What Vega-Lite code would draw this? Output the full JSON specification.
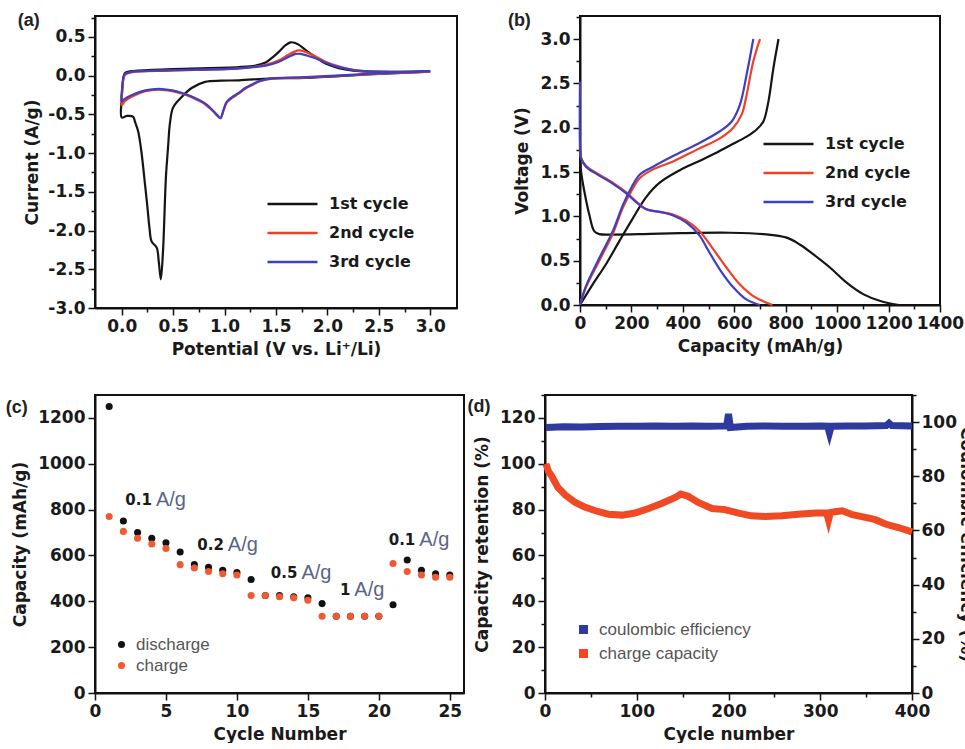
{
 "$schema": "https://vega.github.io/schema/vega-lite/v6.json",
 "padding": {"left": 4, "top": 11, "right": 0, "bottom": 0},
 "background": "white",
 "config": {
  "font": "Liberation Sans",
  "view": {"stroke": "#111", "strokeWidth": 2},
  "axis": {"labelFont": "DejaVu Sans", "labelFontSize": 17, "labelFontWeight": "bold", "labelColor": "#1a1a1a", "titleFont": "DejaVu Sans", "titleFontSize": 17, "titleFontWeight": "bold", "titleColor": "#1a1a1a", "domainColor": "#111", "domainWidth": 2, "tickColor": "#111", "tickWidth": 1.5, "grid": false, "labelPadding": 3, "titlePadding": 8, "labelFlush": false, "labelOverlap": false},
  "axisX": {"titlePadding": 7},
  "title": {"font": "Liberation Sans", "fontSize": 18, "fontWeight": "bold", "color": "#222", "anchor": "start", "frame": "bounds", "offset": -14, "dx": -6},
  "legend": {"labelFont": "Liberation Sans", "titleFont": "Liberation Sans"}
 },
 "resolve": {"scale": {"color": "independent"}, "legend": {"color": "independent"}},
 "columns": 1,
 "align": "none",
 "spacing": 35,
 "concat": [
  {
   "spacing": 48,
   "resolve": {"scale": {"color": "independent"}, "legend": {"color": "independent"}},
   "hconcat": [
    {
     "width": 362, "height": 292,
     "title": {"text": "(a)"},
     "data": {"values": [
      {"c":"1st cycle","o":1,"V":3.0,"I":0.05},{"c":"1st cycle","o":2,"V":2.44,"I":0.02},{"c":"1st cycle","o":3,"V":1.79,"I":-0.03},{"c":"1st cycle","o":4,"V":1.46,"I":-0.035},{"c":"1st cycle","o":5,"V":1.14,"I":-0.06},{"c":"1st cycle","o":6,"V":0.97,"I":-0.065},{"c":"1st cycle","o":7,"V":0.81,"I":-0.08},{"c":"1st cycle","o":8,"V":0.68,"I":-0.16},{"c":"1st cycle","o":9,"V":0.58,"I":-0.28},{"c":"1st cycle","o":10,"V":0.5,"I":-0.41},{"c":"1st cycle","o":11,"V":0.47,"I":-0.6},{"c":"1st cycle","o":12,"V":0.45,"I":-0.93},{"c":"1st cycle","o":13,"V":0.43,"I":-1.3},{"c":"1st cycle","o":14,"V":0.42,"I":-1.62},{"c":"1st cycle","o":15,"V":0.41,"I":-2.0},{"c":"1st cycle","o":16,"V":0.4,"I":-2.3},{"c":"1st cycle","o":17,"V":0.38,"I":-2.63},{"c":"1st cycle","o":18,"V":0.36,"I":-2.4},{"c":"1st cycle","o":19,"V":0.34,"I":-2.22},{"c":"1st cycle","o":20,"V":0.29,"I":-2.14},{"c":"1st cycle","o":21,"V":0.27,"I":-1.97},{"c":"1st cycle","o":22,"V":0.25,"I":-1.7},{"c":"1st cycle","o":23,"V":0.23,"I":-1.45},{"c":"1st cycle","o":24,"V":0.19,"I":-0.97},{"c":"1st cycle","o":25,"V":0.16,"I":-0.72},{"c":"1st cycle","o":26,"V":0.13,"I":-0.6},{"c":"1st cycle","o":27,"V":0.11,"I":-0.53},{"c":"1st cycle","o":28,"V":0.05,"I":-0.52},{"c":"1st cycle","o":29,"V":0.0,"I":-0.54},{"c":"1st cycle","o":30,"V":0.0,"I":-0.3},{"c":"1st cycle","o":31,"V":0.01,"I":-0.1},{"c":"1st cycle","o":32,"V":0.03,"I":0.03},{"c":"1st cycle","o":33,"V":0.08,"I":0.055},{"c":"1st cycle","o":34,"V":0.16,"I":0.065},{"c":"1st cycle","o":35,"V":0.49,"I":0.086},{"c":"1st cycle","o":36,"V":1.14,"I":0.11},{"c":"1st cycle","o":37,"V":1.3,"I":0.13},{"c":"1st cycle","o":38,"V":1.4,"I":0.17},{"c":"1st cycle","o":39,"V":1.47,"I":0.24},{"c":"1st cycle","o":40,"V":1.53,"I":0.31},{"c":"1st cycle","o":41,"V":1.59,"I":0.39},{"c":"1st cycle","o":42,"V":1.64,"I":0.43},{"c":"1st cycle","o":43,"V":1.68,"I":0.425},{"c":"1st cycle","o":44,"V":1.72,"I":0.4},{"c":"1st cycle","o":45,"V":1.78,"I":0.34},{"c":"1st cycle","o":46,"V":1.85,"I":0.27},{"c":"1st cycle","o":47,"V":1.95,"I":0.18},{"c":"1st cycle","o":48,"V":2.03,"I":0.13},{"c":"1st cycle","o":49,"V":2.11,"I":0.095},{"c":"1st cycle","o":50,"V":2.25,"I":0.065},{"c":"1st cycle","o":51,"V":2.44,"I":0.05},{"c":"1st cycle","o":52,"V":2.75,"I":0.05},{"c":"1st cycle","o":53,"V":3.0,"I":0.06},
      {"c":"2nd cycle","o":1,"V":3.0,"I":0.05},{"c":"2nd cycle","o":2,"V":2.44,"I":0.02},{"c":"2nd cycle","o":3,"V":1.79,"I":-0.025},{"c":"2nd cycle","o":4,"V":1.46,"I":-0.04},{"c":"2nd cycle","o":5,"V":1.35,"I":-0.07},{"c":"2nd cycle","o":6,"V":1.27,"I":-0.12},{"c":"2nd cycle","o":7,"V":1.2,"I":-0.17},{"c":"2nd cycle","o":8,"V":1.14,"I":-0.23},{"c":"2nd cycle","o":9,"V":1.07,"I":-0.29},{"c":"2nd cycle","o":10,"V":1.02,"I":-0.35},{"c":"2nd cycle","o":11,"V":0.99,"I":-0.45},{"c":"2nd cycle","o":12,"V":0.96,"I":-0.55},{"c":"2nd cycle","o":13,"V":0.93,"I":-0.52},{"c":"2nd cycle","o":14,"V":0.88,"I":-0.45},{"c":"2nd cycle","o":15,"V":0.81,"I":-0.37},{"c":"2nd cycle","o":16,"V":0.68,"I":-0.28},{"c":"2nd cycle","o":17,"V":0.58,"I":-0.23},{"c":"2nd cycle","o":18,"V":0.49,"I":-0.2},{"c":"2nd cycle","o":19,"V":0.36,"I":-0.18},{"c":"2nd cycle","o":20,"V":0.23,"I":-0.2},{"c":"2nd cycle","o":21,"V":0.1,"I":-0.27},{"c":"2nd cycle","o":22,"V":0.03,"I":-0.33},{"c":"2nd cycle","o":23,"V":0.0,"I":-0.38},{"c":"2nd cycle","o":24,"V":0.005,"I":-0.2},{"c":"2nd cycle","o":25,"V":0.015,"I":-0.05},{"c":"2nd cycle","o":26,"V":0.03,"I":0.01},{"c":"2nd cycle","o":27,"V":0.1,"I":0.045},{"c":"2nd cycle","o":28,"V":0.49,"I":0.065},{"c":"2nd cycle","o":29,"V":1.14,"I":0.095},{"c":"2nd cycle","o":30,"V":1.4,"I":0.14},{"c":"2nd cycle","o":31,"V":1.53,"I":0.2},{"c":"2nd cycle","o":32,"V":1.62,"I":0.27},{"c":"2nd cycle","o":33,"V":1.68,"I":0.31},{"c":"2nd cycle","o":34,"V":1.72,"I":0.325},{"c":"2nd cycle","o":35,"V":1.78,"I":0.31},{"c":"2nd cycle","o":36,"V":1.85,"I":0.27},{"c":"2nd cycle","o":37,"V":1.98,"I":0.18},{"c":"2nd cycle","o":38,"V":2.11,"I":0.12},{"c":"2nd cycle","o":39,"V":2.27,"I":0.07},{"c":"2nd cycle","o":40,"V":2.6,"I":0.045},{"c":"2nd cycle","o":41,"V":3.0,"I":0.05},
      {"c":"3rd cycle","o":1,"V":3.0,"I":0.055},{"c":"3rd cycle","o":2,"V":2.44,"I":0.025},{"c":"3rd cycle","o":3,"V":1.79,"I":-0.02},{"c":"3rd cycle","o":4,"V":1.46,"I":-0.035},{"c":"3rd cycle","o":5,"V":1.35,"I":-0.065},{"c":"3rd cycle","o":6,"V":1.27,"I":-0.11},{"c":"3rd cycle","o":7,"V":1.2,"I":-0.16},{"c":"3rd cycle","o":8,"V":1.14,"I":-0.22},{"c":"3rd cycle","o":9,"V":1.07,"I":-0.28},{"c":"3rd cycle","o":10,"V":1.02,"I":-0.34},{"c":"3rd cycle","o":11,"V":0.99,"I":-0.44},{"c":"3rd cycle","o":12,"V":0.96,"I":-0.55},{"c":"3rd cycle","o":13,"V":0.93,"I":-0.51},{"c":"3rd cycle","o":14,"V":0.88,"I":-0.44},{"c":"3rd cycle","o":15,"V":0.81,"I":-0.36},{"c":"3rd cycle","o":16,"V":0.68,"I":-0.27},{"c":"3rd cycle","o":17,"V":0.58,"I":-0.22},{"c":"3rd cycle","o":18,"V":0.49,"I":-0.19},{"c":"3rd cycle","o":19,"V":0.36,"I":-0.17},{"c":"3rd cycle","o":20,"V":0.23,"I":-0.19},{"c":"3rd cycle","o":21,"V":0.1,"I":-0.25},{"c":"3rd cycle","o":22,"V":0.03,"I":-0.3},{"c":"3rd cycle","o":23,"V":0.0,"I":-0.33},{"c":"3rd cycle","o":24,"V":0.005,"I":-0.15},{"c":"3rd cycle","o":25,"V":0.015,"I":-0.03},{"c":"3rd cycle","o":26,"V":0.03,"I":0.02},{"c":"3rd cycle","o":27,"V":0.1,"I":0.05},{"c":"3rd cycle","o":28,"V":0.49,"I":0.07},{"c":"3rd cycle","o":29,"V":1.14,"I":0.095},{"c":"3rd cycle","o":30,"V":1.4,"I":0.13},{"c":"3rd cycle","o":31,"V":1.53,"I":0.18},{"c":"3rd cycle","o":32,"V":1.62,"I":0.24},{"c":"3rd cycle","o":33,"V":1.69,"I":0.28},{"c":"3rd cycle","o":34,"V":1.74,"I":0.28},{"c":"3rd cycle","o":35,"V":1.8,"I":0.26},{"c":"3rd cycle","o":36,"V":1.87,"I":0.23},{"c":"3rd cycle","o":37,"V":1.98,"I":0.17},{"c":"3rd cycle","o":38,"V":2.11,"I":0.11},{"c":"3rd cycle","o":39,"V":2.27,"I":0.07},{"c":"3rd cycle","o":40,"V":2.6,"I":0.05},{"c":"3rd cycle","o":41,"V":3.0,"I":0.06}
     ]},
     "mark": {"type": "line", "strokeWidth": 2.2, "interpolate": "catmull-rom"},
     "encoding": {
      "x": {"field": "V", "type": "quantitative", "scale": {"domain": [-0.26, 3.26], "nice": false, "zero": false},
            "axis": {"title": "Potential (V vs. Li⁺/Li)", "values": [0,0.25,0.5,0.75,1,1.25,1.5,1.75,2,2.25,2.5,2.75,3],
                     "labelExpr": "abs(datum.value*2-round(datum.value*2))<0.01 ? replace(format(datum.value,'.1f'),'−','-') : ''",
                     "labelFontSize": {"condition": {"test": "abs(datum.value*2-round(datum.value*2))<0.01", "value": 17}, "value": 0},
                     "tickSize": {"condition": {"test": "abs(datum.value*2-round(datum.value*2))<0.01", "value": 7}, "value": 4}}},
      "y": {"field": "I", "type": "quantitative", "scale": {"domain": [-3, 0.77], "nice": false, "zero": false},
            "axis": {"title": "Current (A/g)", "titlePadding": 6, "values": [-3,-2.75,-2.5,-2.25,-2,-1.75,-1.5,-1.25,-1,-0.75,-0.5,-0.25,0,0.25,0.5,0.75],
                     "labelExpr": "abs(datum.value*2-round(datum.value*2))<0.01 ? replace(format(datum.value,'.1f'),'−','-') : ''",
                     "labelFontSize": {"condition": {"test": "abs(datum.value*2-round(datum.value*2))<0.01", "value": 17}, "value": 0},
                     "tickSize": {"condition": {"test": "abs(datum.value*2-round(datum.value*2))<0.01", "value": 7}, "value": 4}}},
      "color": {"field": "c", "type": "nominal", "scale": {"domain": ["1st cycle","2nd cycle","3rd cycle"], "range": ["#151515","#ef4026","#3f3fbf"]},
                "legend": {"title": null, "orient": "none", "legendX": 171, "legendY": 178, "symbolType": "stroke", "symbolSize": 2500, "symbolStrokeWidth": 2.5, "clipHeight": 20, "labelFont": "DejaVu Sans", "labelFontSize": 16, "labelFontWeight": "bold", "labelColor": "#1a1a1a", "labelOffset": 10, "rowPadding": 9}},
      "order": {"field": "o", "type": "quantitative"}
     }
    },
    {
     "width": 360, "height": 289,
     "title": {"text": "(b)"},
     "data": {"values": [
      {"c":"1st cycle","s":"1d","o":1,"q":0,"v":1.75},{"c":"1st cycle","s":"1d","o":2,"q":4,"v":1.51},{"c":"1st cycle","s":"1d","o":3,"q":17,"v":1.28},{"c":"1st cycle","s":"1d","o":4,"q":36,"v":1.02},{"c":"1st cycle","s":"1d","o":5,"q":56,"v":0.83},{"c":"1st cycle","s":"1d","o":6,"q":75,"v":0.8},{"c":"1st cycle","s":"1d","o":7,"q":127,"v":0.795},{"c":"1st cycle","s":"1d","o":8,"q":250,"v":0.8},{"c":"1st cycle","s":"1d","o":9,"q":388,"v":0.81},{"c":"1st cycle","s":"1d","o":10,"q":583,"v":0.815},{"c":"1st cycle","s":"1d","o":11,"q":713,"v":0.8},{"c":"1st cycle","s":"1d","o":12,"q":804,"v":0.76},{"c":"1st cycle","s":"1d","o":13,"q":856,"v":0.68},{"c":"1st cycle","s":"1d","o":14,"q":908,"v":0.57},{"c":"1st cycle","s":"1d","o":15,"q":973,"v":0.42},{"c":"1st cycle","s":"1d","o":16,"q":1038,"v":0.25},{"c":"1st cycle","s":"1d","o":17,"q":1103,"v":0.12},{"c":"1st cycle","s":"1d","o":18,"q":1168,"v":0.045},{"c":"1st cycle","s":"1d","o":19,"q":1240,"v":0.0},
      {"c":"1st cycle","s":"1c","o":1,"q":0,"v":0},{"c":"1st cycle","s":"1c","o":2,"q":49,"v":0.23},{"c":"1st cycle","s":"1c","o":3,"q":101,"v":0.46},{"c":"1st cycle","s":"1c","o":4,"q":153,"v":0.72},{"c":"1st cycle","s":"1c","o":5,"q":206,"v":0.98},{"c":"1st cycle","s":"1c","o":6,"q":258,"v":1.22},{"c":"1st cycle","s":"1c","o":7,"q":310,"v":1.38},{"c":"1st cycle","s":"1c","o":8,"q":388,"v":1.52},{"c":"1st cycle","s":"1c","o":9,"q":453,"v":1.61},{"c":"1st cycle","s":"1c","o":10,"q":518,"v":1.7},{"c":"1st cycle","s":"1c","o":11,"q":583,"v":1.8},{"c":"1st cycle","s":"1c","o":12,"q":648,"v":1.9},{"c":"1st cycle","s":"1c","o":13,"q":687,"v":1.98},{"c":"1st cycle","s":"1c","o":14,"q":713,"v":2.07},{"c":"1st cycle","s":"1c","o":15,"q":733,"v":2.3},{"c":"1st cycle","s":"1c","o":16,"q":752,"v":2.67},{"c":"1st cycle","s":"1c","o":17,"q":772,"v":3.0},
      {"c":"2nd cycle","s":"2d","o":1,"q":0,"v":1.81},{"c":"2nd cycle","s":"2d","o":2,"q":4,"v":1.66},{"c":"2nd cycle","s":"2d","o":3,"q":23,"v":1.57},{"c":"2nd cycle","s":"2d","o":4,"q":75,"v":1.47},{"c":"2nd cycle","s":"2d","o":5,"q":127,"v":1.38},{"c":"2nd cycle","s":"2d","o":6,"q":180,"v":1.27},{"c":"2nd cycle","s":"2d","o":7,"q":218,"v":1.17},{"c":"2nd cycle","s":"2d","o":8,"q":258,"v":1.08},{"c":"2nd cycle","s":"2d","o":9,"q":310,"v":1.05},{"c":"2nd cycle","s":"2d","o":10,"q":362,"v":1.02},{"c":"2nd cycle","s":"2d","o":11,"q":414,"v":0.95},{"c":"2nd cycle","s":"2d","o":12,"q":466,"v":0.83},{"c":"2nd cycle","s":"2d","o":13,"q":518,"v":0.63},{"c":"2nd cycle","s":"2d","o":14,"q":570,"v":0.42},{"c":"2nd cycle","s":"2d","o":15,"q":622,"v":0.23},{"c":"2nd cycle","s":"2d","o":16,"q":674,"v":0.1},{"c":"2nd cycle","s":"2d","o":17,"q":748,"v":0.0},
      {"c":"2nd cycle","s":"2c","o":1,"q":0,"v":0},{"c":"2nd cycle","s":"2c","o":2,"q":23,"v":0.2},{"c":"2nd cycle","s":"2c","o":3,"q":75,"v":0.5},{"c":"2nd cycle","s":"2c","o":4,"q":127,"v":0.8},{"c":"2nd cycle","s":"2c","o":5,"q":167,"v":1.1},{"c":"2nd cycle","s":"2c","o":6,"q":199,"v":1.28},{"c":"2nd cycle","s":"2c","o":7,"q":232,"v":1.43},{"c":"2nd cycle","s":"2c","o":8,"q":284,"v":1.53},{"c":"2nd cycle","s":"2c","o":9,"q":362,"v":1.62},{"c":"2nd cycle","s":"2c","o":10,"q":453,"v":1.75},{"c":"2nd cycle","s":"2c","o":11,"q":544,"v":1.88},{"c":"2nd cycle","s":"2c","o":12,"q":596,"v":2.0},{"c":"2nd cycle","s":"2c","o":13,"q":629,"v":2.15},{"c":"2nd cycle","s":"2c","o":14,"q":648,"v":2.37},{"c":"2nd cycle","s":"2c","o":15,"q":674,"v":2.75},{"c":"2nd cycle","s":"2c","o":16,"q":700,"v":3.0},
      {"c":"3rd cycle","s":"3d","o":1,"q":0,"v":2.52},{"c":"3rd cycle","s":"3d","o":2,"q":0,"v":1.8},{"c":"3rd cycle","s":"3d","o":3,"q":4,"v":1.66},{"c":"3rd cycle","s":"3d","o":4,"q":23,"v":1.56},{"c":"3rd cycle","s":"3d","o":5,"q":75,"v":1.46},{"c":"3rd cycle","s":"3d","o":6,"q":127,"v":1.37},{"c":"3rd cycle","s":"3d","o":7,"q":180,"v":1.26},{"c":"3rd cycle","s":"3d","o":8,"q":218,"v":1.16},{"c":"3rd cycle","s":"3d","o":9,"q":258,"v":1.08},{"c":"3rd cycle","s":"3d","o":10,"q":310,"v":1.05},{"c":"3rd cycle","s":"3d","o":11,"q":362,"v":1.01},{"c":"3rd cycle","s":"3d","o":12,"q":414,"v":0.93},{"c":"3rd cycle","s":"3d","o":13,"q":466,"v":0.78},{"c":"3rd cycle","s":"3d","o":14,"q":492,"v":0.65},{"c":"3rd cycle","s":"3d","o":15,"q":544,"v":0.4},{"c":"3rd cycle","s":"3d","o":16,"q":596,"v":0.2},{"c":"3rd cycle","s":"3d","o":17,"q":648,"v":0.06},{"c":"3rd cycle","s":"3d","o":18,"q":700,"v":0.0},
      {"c":"3rd cycle","s":"3c","o":1,"q":0,"v":0},{"c":"3rd cycle","s":"3c","o":2,"q":23,"v":0.21},{"c":"3rd cycle","s":"3c","o":3,"q":75,"v":0.53},{"c":"3rd cycle","s":"3c","o":4,"q":127,"v":0.83},{"c":"3rd cycle","s":"3c","o":5,"q":167,"v":1.13},{"c":"3rd cycle","s":"3c","o":6,"q":199,"v":1.32},{"c":"3rd cycle","s":"3c","o":7,"q":232,"v":1.47},{"c":"3rd cycle","s":"3c","o":8,"q":284,"v":1.56},{"c":"3rd cycle","s":"3c","o":9,"q":362,"v":1.68},{"c":"3rd cycle","s":"3c","o":10,"q":453,"v":1.81},{"c":"3rd cycle","s":"3c","o":11,"q":544,"v":1.96},{"c":"3rd cycle","s":"3c","o":12,"q":590,"v":2.07},{"c":"3rd cycle","s":"3c","o":13,"q":622,"v":2.26},{"c":"3rd cycle","s":"3c","o":14,"q":648,"v":2.6},{"c":"3rd cycle","s":"3c","o":15,"q":674,"v":3.0}
     ]},
     "mark": {"type": "line", "strokeWidth": 2.2, "interpolate": "catmull-rom"},
     "encoding": {
      "x": {"field": "q", "type": "quantitative", "scale": {"domain": [0, 1400], "nice": false},
            "axis": {"title": "Capacity (mAh/g)", "values": [0,100,200,300,400,500,600,700,800,900,1000,1100,1200,1300,1400],
                     "labelExpr": "datum.value % 200 === 0 ? format(datum.value,'d') : ''",
                     "labelFontSize": {"condition": {"test": "datum.value % 200 === 0", "value": 17}, "value": 0},
                     "tickSize": {"condition": {"test": "datum.value % 200 === 0", "value": 7}, "value": 4}}},
      "y": {"field": "v", "type": "quantitative", "scale": {"domain": [0, 3.26], "nice": false},
            "axis": {"title": "Voltage (V)", "values": [0,0.25,0.5,0.75,1,1.25,1.5,1.75,2,2.25,2.5,2.75,3,3.25],
                     "labelExpr": "abs(datum.value*2-round(datum.value*2))<0.01 ? format(datum.value,'.1f') : ''",
                     "labelFontSize": {"condition": {"test": "abs(datum.value*2-round(datum.value*2))<0.01", "value": 17}, "value": 0},
                     "tickSize": {"condition": {"test": "abs(datum.value*2-round(datum.value*2))<0.01", "value": 7}, "value": 4}}},
      "color": {"field": "c", "type": "nominal", "scale": {"domain": ["1st cycle","2nd cycle","3rd cycle"], "range": ["#151515","#ef4026","#3f3fbf"]},
                "legend": {"title": null, "orient": "none", "legendX": 182, "legendY": 118, "symbolType": "stroke", "symbolSize": 2500, "symbolStrokeWidth": 2.5, "clipHeight": 20, "labelFont": "DejaVu Sans", "labelFontSize": 16, "labelFontWeight": "bold", "labelColor": "#1a1a1a", "labelOffset": 10, "rowPadding": 9}},
      "detail": {"field": "s"},
      "order": {"field": "o", "type": "quantitative"}
     }
    }
   ]
  },
  {
   "spacing": 1,
   "resolve": {"scale": {"color": "independent"}, "legend": {"color": "independent"}},
   "hconcat": [
    {
     "width": 369, "height": 298,
     "title": {"text": "(c)", "offset": -22},
     "layer": [
      {
       "data": {"values": [
        {"cycle":1,"cap":1250,"t":"discharge"},{"cycle":2,"cap":750,"t":"discharge"},{"cycle":3,"cap":700,"t":"discharge"},{"cycle":4,"cap":675,"t":"discharge"},{"cycle":5,"cap":655,"t":"discharge"},{"cycle":6,"cap":615,"t":"discharge"},{"cycle":7,"cap":560,"t":"discharge"},{"cycle":8,"cap":548,"t":"discharge"},{"cycle":9,"cap":535,"t":"discharge"},{"cycle":10,"cap":525,"t":"discharge"},{"cycle":11,"cap":495,"t":"discharge"},{"cycle":12,"cap":425,"t":"discharge"},{"cycle":13,"cap":425,"t":"discharge"},{"cycle":14,"cap":420,"t":"discharge"},{"cycle":15,"cap":415,"t":"discharge"},{"cycle":16,"cap":390,"t":"discharge"},{"cycle":17,"cap":335,"t":"discharge"},{"cycle":18,"cap":335,"t":"discharge"},{"cycle":19,"cap":335,"t":"discharge"},{"cycle":20,"cap":335,"t":"discharge"},{"cycle":21,"cap":385,"t":"discharge"},{"cycle":22,"cap":580,"t":"discharge"},{"cycle":23,"cap":535,"t":"discharge"},{"cycle":24,"cap":520,"t":"discharge"},{"cycle":25,"cap":515,"t":"discharge"},
        {"cycle":1,"cap":770,"t":"charge"},{"cycle":2,"cap":705,"t":"charge"},{"cycle":3,"cap":675,"t":"charge"},{"cycle":4,"cap":650,"t":"charge"},{"cycle":5,"cap":630,"t":"charge"},{"cycle":6,"cap":560,"t":"charge"},{"cycle":7,"cap":545,"t":"charge"},{"cycle":8,"cap":530,"t":"charge"},{"cycle":9,"cap":520,"t":"charge"},{"cycle":10,"cap":515,"t":"charge"},{"cycle":11,"cap":425,"t":"charge"},{"cycle":12,"cap":425,"t":"charge"},{"cycle":13,"cap":420,"t":"charge"},{"cycle":14,"cap":415,"t":"charge"},{"cycle":15,"cap":405,"t":"charge"},{"cycle":16,"cap":335,"t":"charge"},{"cycle":17,"cap":335,"t":"charge"},{"cycle":18,"cap":335,"t":"charge"},{"cycle":19,"cap":335,"t":"charge"},{"cycle":20,"cap":335,"t":"charge"},{"cycle":21,"cap":565,"t":"charge"},{"cycle":22,"cap":530,"t":"charge"},{"cycle":23,"cap":515,"t":"charge"},{"cycle":24,"cap":505,"t":"charge"},{"cycle":25,"cap":505,"t":"charge"}
       ]},
       "mark": {"type": "point", "filled": true, "opacity": 1, "size": 50},
       "encoding": {
        "x": {"field": "cycle", "type": "quantitative", "scale": {"domain": [0, 26], "nice": false},
              "axis": {"title": "Cycle Number", "values": [0,2.5,5,7.5,10,12.5,15,17.5,20,22.5,25],
                       "labelExpr": "datum.value % 5 === 0 ? format(datum.value,'d') : ''",
                       "labelFontSize": {"condition": {"test": "datum.value % 5 === 0", "value": 17}, "value": 0},
                       "tickSize": {"condition": {"test": "datum.value % 5 === 0", "value": 7}, "value": 4}}},
        "y": {"field": "cap", "type": "quantitative", "scale": {"domain": [0, 1300], "nice": false},
              "axis": {"title": "Capacity (mAh/g)", "values": [0,100,200,300,400,500,600,700,800,900,1000,1100,1200,1300],
                       "labelExpr": "datum.value % 200 === 0 ? format(datum.value,'d') : ''",
                       "labelFontSize": {"condition": {"test": "datum.value % 200 === 0", "value": 17}, "value": 0},
                       "tickSize": {"condition": {"test": "datum.value % 200 === 0", "value": 7}, "value": 4}}},
        "color": {"field": "t", "type": "nominal", "scale": {"domain": ["discharge","charge"], "range": ["#111111","#f05a32"]},
                  "legend": {"title": null, "orient": "none", "legendX": 18, "legendY": 241, "symbolType": "circle", "symbolSize": 50, "labelFontSize": 17, "labelFontWeight": "normal", "labelColor": "#555", "labelOffset": 6, "rowPadding": 3}}
       }
      },
      {
       "data": {"values": [
        {"cycle":4.08,"cap":842,"num":"0.1","unit":"A/g"},{"cycle":9.15,"cap":646,"num":"0.2","unit":"A/g"},{"cycle":14.33,"cap":522,"num":"0.5","unit":"A/g"},{"cycle":18.06,"cap":450,"num":"1","unit":"A/g"},{"cycle":22.64,"cap":668,"num":"0.1","unit":"A/g"}
       ]},
       "layer": [
        {"mark": {"type": "text", "align": "right", "dx": -1, "fontSize": 15, "fontWeight": "bold", "color": "#1a1a1a", "font": "DejaVu Sans"},
         "encoding": {"x": {"field": "cycle", "type": "quantitative"}, "y": {"field": "cap", "type": "quantitative"}, "text": {"field": "num"}}},
        {"mark": {"type": "text", "align": "left", "dx": 3, "fontSize": 20, "fontWeight": "normal", "color": "#5a6488", "font": "Liberation Sans"},
         "encoding": {"x": {"field": "cycle", "type": "quantitative"}, "y": {"field": "cap", "type": "quantitative"}, "text": {"field": "unit"}}}
       ]
      }
     ]
    },
    {
     "width": 367, "height": 298,
     "title": {"text": "(d)", "offset": -22},
     "layer": [
      {
       "data": {"values": [
        {"n":1,"r":100,"s":"charge capacity"},{"n":4,"r":96.5,"s":"charge capacity"},{"n":7,"r":94.8,"s":"charge capacity"},{"n":14,"r":89.7,"s":"charge capacity"},{"n":22,"r":86.4,"s":"charge capacity"},{"n":33,"r":83.1,"s":"charge capacity"},{"n":44,"r":81,"s":"charge capacity"},{"n":55,"r":79.5,"s":"charge capacity"},{"n":69,"r":78,"s":"charge capacity"},{"n":84,"r":77.6,"s":"charge capacity"},{"n":98,"r":78.5,"s":"charge capacity"},{"n":113,"r":80.5,"s":"charge capacity"},{"n":127,"r":82.7,"s":"charge capacity"},{"n":142,"r":85.3,"s":"charge capacity"},{"n":148,"r":86.8,"s":"charge capacity"},{"n":156,"r":85.8,"s":"charge capacity"},{"n":167,"r":83.1,"s":"charge capacity"},{"n":182,"r":80.5,"s":"charge capacity"},{"n":196,"r":80,"s":"charge capacity"},{"n":211,"r":78.5,"s":"charge capacity"},{"n":225,"r":77.3,"s":"charge capacity"},{"n":240,"r":77,"s":"charge capacity"},{"n":258,"r":77.3,"s":"charge capacity"},{"n":276,"r":78,"s":"charge capacity"},{"n":295,"r":78.5,"s":"charge capacity"},{"n":307,"r":78.5,"s":"charge capacity"},{"n":309,"r":75.5,"s":"charge capacity"},{"n":311,"r":78.7,"s":"charge capacity"},{"n":316,"r":79.1,"s":"charge capacity"},{"n":324,"r":79.5,"s":"charge capacity"},{"n":335,"r":77.8,"s":"charge capacity"},{"n":349,"r":76.6,"s":"charge capacity"},{"n":360,"r":75.6,"s":"charge capacity"},{"n":371,"r":73.7,"s":"charge capacity"},{"n":385,"r":72.2,"s":"charge capacity"},{"n":400,"r":70.3,"s":"charge capacity"}
       ]},
       "mark": {"type": "line", "strokeWidth": 7},
       "encoding": {
        "x": {"field": "n", "type": "quantitative", "scale": {"domain": [0, 400], "nice": false},
              "axis": {"title": "Cycle number", "values": [0,50,100,150,200,250,300,350,400],
                       "labelExpr": "datum.value % 100 === 0 ? format(datum.value,'d') : ''",
                       "labelFontSize": {"condition": {"test": "datum.value % 100 === 0", "value": 17}, "value": 0},
                       "tickSize": {"condition": {"test": "datum.value % 100 === 0", "value": 7}, "value": 4}}},
        "y": {"field": "r", "type": "quantitative", "scale": {"domain": [0, 130], "nice": false},
              "axis": {"title": "Capacity retention (%)", "orient": "left", "values": [0,10,20,30,40,50,60,70,80,90,100,110,120,130],
                       "labelExpr": "datum.value % 20 === 0 ? format(datum.value,'d') : ''",
                       "labelFontSize": {"condition": {"test": "datum.value % 20 === 0", "value": 17}, "value": 0},
                       "tickSize": {"condition": {"test": "datum.value % 20 === 0", "value": 7}, "value": 4}}},
        "color": {"field": "s", "type": "nominal", "scale": {"domain": ["coulombic efficiency","charge capacity"], "range": ["#2e3a9e","#f04a24"]},
                  "legend": {"title": null, "orient": "none", "legendX": 30, "legendY": 226, "symbolType": "square", "symbolSize": 16, "symbolStrokeWidth": 5, "labelFontSize": 17, "labelFontWeight": "normal", "labelColor": "#555", "labelOffset": 7, "rowPadding": -1}}
       }
      },
      {
       "data": {"values": [
        {"n":1,"ce":98.0,"s":"coulombic efficiency"},{"n":20,"ce":98.3,"s":"coulombic efficiency"},{"n":40,"ce":98.2,"s":"coulombic efficiency"},{"n":60,"ce":98.4,"s":"coulombic efficiency"},{"n":80,"ce":98.5,"s":"coulombic efficiency"},{"n":100,"ce":98.5,"s":"coulombic efficiency"},{"n":120,"ce":98.6,"s":"coulombic efficiency"},{"n":140,"ce":98.5,"s":"coulombic efficiency"},{"n":160,"ce":98.6,"s":"coulombic efficiency"},{"n":180,"ce":98.5,"s":"coulombic efficiency"},{"n":198,"ce":98.6,"s":"coulombic efficiency"},{"n":200,"ce":103,"s":"coulombic efficiency"},{"n":202,"ce":98.0,"s":"coulombic efficiency"},{"n":220,"ce":98.5,"s":"coulombic efficiency"},{"n":240,"ce":98.6,"s":"coulombic efficiency"},{"n":260,"ce":98.5,"s":"coulombic efficiency"},{"n":280,"ce":98.5,"s":"coulombic efficiency"},{"n":300,"ce":98.6,"s":"coulombic efficiency"},{"n":308,"ce":98.5,"s":"coulombic efficiency"},{"n":310,"ce":96.0,"s":"coulombic efficiency"},{"n":312,"ce":98.5,"s":"coulombic efficiency"},{"n":330,"ce":98.6,"s":"coulombic efficiency"},{"n":350,"ce":98.6,"s":"coulombic efficiency"},{"n":372,"ce":98.7,"s":"coulombic efficiency"},{"n":375,"ce":99.6,"s":"coulombic efficiency"},{"n":378,"ce":98.7,"s":"coulombic efficiency"},{"n":400,"ce":98.6,"s":"coulombic efficiency"}
       ]},
       "mark": {"type": "line", "strokeWidth": 7},
       "encoding": {
        "x": {"field": "n", "type": "quantitative"},
        "y": {"field": "ce", "type": "quantitative", "scale": {"domain": [0, 110], "nice": false},
              "axis": {"title": "Coulombic efficiency (%)", "orient": "right", "titlePadding": 0, "labelPadding": 2, "values": [0,10,20,30,40,50,60,70,80,90,100,110],
                       "labelExpr": "datum.value % 20 === 0 ? format(datum.value,'d') : ''",
                       "labelFontSize": {"condition": {"test": "datum.value % 20 === 0", "value": 17}, "value": 0},
                       "tickSize": {"condition": {"test": "datum.value % 20 === 0", "value": 7}, "value": 4}}},
        "color": {"field": "s", "type": "nominal"}
       }
      }
     ],
     "resolve": {"scale": {"y": "independent"}}
    }
   ]
  }
 ]
}
